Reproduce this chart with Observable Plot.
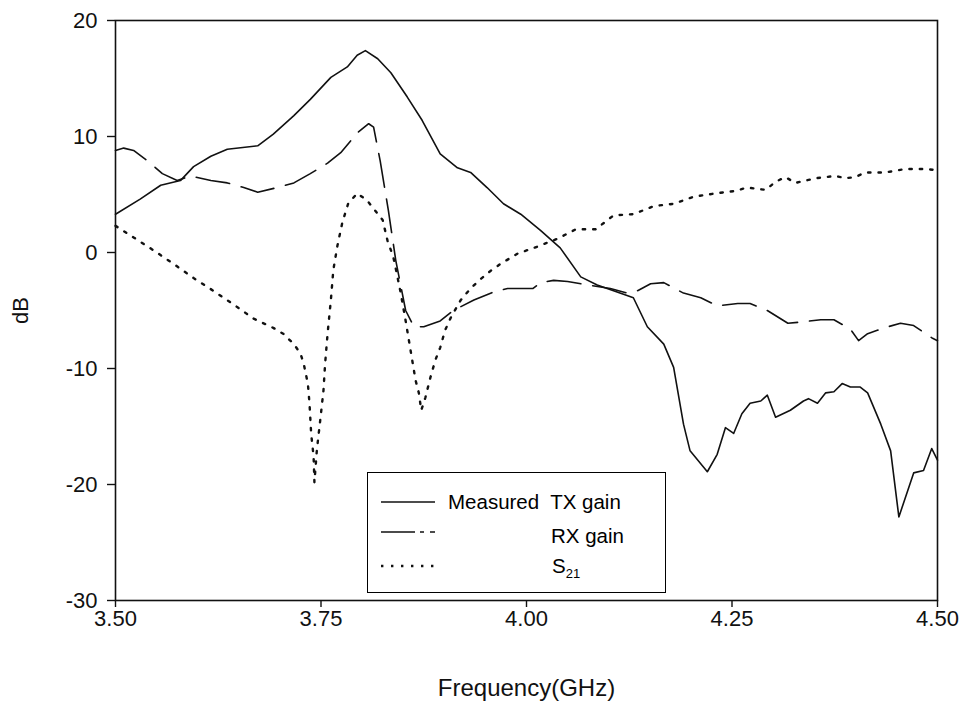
<!DOCTYPE html>
<html>
<head>
<meta charset="utf-8">
<script src="https://cdn.jsdelivr.net/npm/d3@7"></script>
<script src="https://cdn.jsdelivr.net/npm/@observablehq/plot@0.6"></script>
<style>
  html, body { margin: 0; padding: 0; background: #fff; }
  #wrap { position: relative; width: 962px; height: 710px; font-family: "Liberation Sans", Arial, sans-serif; }
  #wrap g[aria-label="x-axis tick label"], #wrap g[aria-label="y-axis tick label"] { font-size: 22px !important; }
  #wrap g[aria-label="x-axis tick label"] text, #wrap g[aria-label="y-axis tick label"] text { font-size: 22px !important; }
  #legend { position: absolute; left: 367px; top: 472px; width: 299px; height: 121px; border: 1.5px solid #000; box-sizing: border-box; background: #fff;
            font-family: "Liberation Sans", Arial, sans-serif; font-size: 20.5px; line-height: 20px; color: #000; }
  #legend svg { position: absolute; left: 13px; }
  #legend span { position: absolute; white-space: pre; }
</style>
</head>
<body>
<div id="wrap"></div>
<script>
// ---- data ----
const txFreq = [3.500,3.530,3.555,3.579,3.595,3.616,3.636,3.673,3.692,3.717,3.737,3.762,3.782,3.794,3.804,3.819,3.835,3.855,3.873,3.895,3.916,3.932,3.952,3.972,3.993,4.017,4.041,4.066,4.086,4.118,4.130,4.147,4.167,4.179,4.191,4.199,4.220,4.232,4.242,4.252,4.262,4.272,4.285,4.293,4.303,4.321,4.337,4.343,4.354,4.364,4.374,4.384,4.394,4.406,4.415,4.431,4.443,4.453,4.471,4.483,4.493,4.500];
const txGain = [3.3,4.6,5.8,6.2,7.4,8.3,8.9,9.2,10.2,11.8,13.2,15.1,16.0,17.0,17.4,16.7,15.5,13.4,11.4,8.5,7.3,6.9,5.6,4.2,3.3,1.9,0.4,-2.1,-2.8,-3.6,-3.9,-6.4,-7.9,-9.9,-14.8,-17.1,-18.9,-17.4,-15.1,-15.6,-13.9,-13.0,-12.8,-12.3,-14.2,-13.6,-12.8,-12.6,-13.0,-12.1,-12.0,-11.3,-11.6,-11.6,-12.1,-14.8,-17.1,-22.8,-19.0,-18.8,-16.9,-17.9];

const rxFreq = [3.500,3.510,3.522,3.539,3.557,3.575,3.591,3.616,3.636,3.656,3.673,3.697,3.717,3.737,3.758,3.774,3.794,3.808,3.814,3.822,3.832,3.841,3.853,3.863,3.875,3.895,3.911,3.936,3.960,3.977,4.008,4.017,4.033,4.050,4.075,4.102,4.123,4.135,4.151,4.167,4.191,4.212,4.232,4.257,4.272,4.293,4.318,4.333,4.358,4.374,4.394,4.404,4.415,4.435,4.455,4.471,4.494,4.500];
const rxGain = [8.8,9.0,8.8,7.9,6.8,6.2,6.6,6.2,6.0,5.6,5.2,5.6,6.0,6.8,7.7,8.6,10.3,11.1,10.8,7.9,3.6,-0.7,-5.0,-6.4,-6.4,-5.9,-5.0,-4.1,-3.4,-3.1,-3.1,-2.6,-2.4,-2.5,-2.8,-3.1,-3.5,-3.3,-2.7,-2.6,-3.5,-3.9,-4.6,-4.4,-4.4,-5.0,-6.1,-6.0,-5.8,-5.8,-6.6,-7.6,-7.0,-6.5,-6.1,-6.3,-7.4,-7.6];

const s21Freq = [3.500,3.522,3.546,3.571,3.595,3.619,3.644,3.668,3.692,3.704,3.717,3.725,3.729,3.734,3.736,3.738,3.741,3.742,3.745,3.749,3.753,3.755,3.758,3.762,3.765,3.770,3.776,3.783,3.794,3.806,3.816,3.825,3.831,3.838,3.841,3.847,3.853,3.857,3.861,3.865,3.869,3.872,3.877,3.883,3.889,3.895,3.901,3.908,3.920,3.932,3.944,3.956,3.968,3.989,4.013,4.038,4.060,4.084,4.106,4.130,4.155,4.179,4.203,4.230,4.254,4.268,4.291,4.303,4.315,4.327,4.352,4.376,4.388,4.400,4.412,4.437,4.461,4.483,4.500];
const s21Val = [2.3,1.3,0.2,-1.0,-2.2,-3.3,-4.5,-5.7,-6.5,-7.0,-7.9,-8.7,-9.6,-11.3,-13.0,-15.6,-17.6,-19.8,-17.0,-14.5,-11.9,-9.6,-7.0,-4.1,-1.5,0.6,2.6,4.2,5.1,4.5,3.6,2.8,1.0,-0.4,-1.4,-3.5,-5.9,-7.6,-9.3,-11.0,-12.1,-13.6,-12.5,-10.8,-9.3,-8.2,-6.7,-5.6,-4.1,-3.1,-2.3,-1.6,-1.0,-0.1,0.5,1.2,2.0,2.0,3.2,3.3,4.0,4.2,4.8,5.1,5.3,5.6,5.4,6.1,6.5,6.0,6.4,6.6,6.4,6.5,6.9,6.9,7.2,7.2,7.1];

const xTicks = [3.50, 3.75, 4.00, 4.25, 4.50];
const yTicks = [20, 10, 0, -10, -20, -30];
const seriesNames = ["Measured  TX gain", "RX gain", "S21"];

// ---- tables ----
const tx = txFreq.map((f, i) => ({f, v: txGain[i]}));
const rx = rxFreq.map((f, i) => ({f, v: rxGain[i]}));
const s21 = s21Freq.map((f, i) => ({f, v: s21Val[i]}));

const chart = Plot.plot({
  width: 962,
  height: 710,
  marginLeft: 115,
  marginRight: 25,
  marginTop: 20,
  marginBottom: 110,
  style: {fontFamily: '"Liberation Sans", Arial, sans-serif', fontSize: "21px", color: "#111", background: "white"},
  x: {domain: [3.5, 4.5]},
  y: {domain: [-30, 20]},
  marks: [
    Plot.frame({stroke: "#111", strokeWidth: 1.6}),
    Plot.axisX({ticks: xTicks, tickFormat: d => d.toFixed(2), tickSize: 7, tickPadding: 3,
      fontSize: 22, label: null, strokeWidth: 1.4}),
    Plot.axisX({ticks: [], label: "Frequency(GHz)", labelAnchor: "center", labelOffset: 95, labelArrow: "none",
      fontSize: 24}),
    Plot.axisY({ticks: yTicks, tickFormat: d => String(d), tickSize: 8, tickPadding: 10,
      fontSize: 22, label: null, strokeWidth: 1.4}),
    Plot.axisY({ticks: [], label: "dB", labelAnchor: "center", labelOffset: 103, labelArrow: "none",
      fontSize: 22}),
    Plot.line(tx, {x: "f", y: "v", stroke: "#111", strokeWidth: 1.6}),
    Plot.line(rx, {x: "f", y: "v", stroke: "#111", strokeWidth: 1.6, strokeDasharray: "34,12"}),
    Plot.line(s21, {x: "f", y: "v", stroke: "#111", strokeWidth: 2.4, strokeDasharray: "2.4,8"})
  ]
});

const wrap = document.getElementById("wrap");
wrap.appendChild(chart);

// ---- legend ----
const legend = document.createElement("div");
legend.id = "legend";
const rows = [
  {lineY: 29, dash: null, width: 1.5, label: seriesNames[0], left: 80, textTop: 18.5},
  {lineY: 59, dash: "34,5,4,6,6", width: 1.5, label: seriesNames[1], left: 183, textTop: 53},
  {lineY: 93, dash: "2.4,7.6", width: 2.4, label: seriesNames[2], left: 184, textTop: 83}
];
const ns = "http://www.w3.org/2000/svg";
rows.forEach(r => {
  const s = document.createElementNS(ns, "svg");
  s.setAttribute("width", 56); s.setAttribute("height", 10);
  s.style.top = (r.lineY - 5) + "px";
  const ln = document.createElementNS(ns, "line");
  ln.setAttribute("x1", 0); ln.setAttribute("x2", 54);
  ln.setAttribute("y1", 5); ln.setAttribute("y2", 5);
  ln.setAttribute("stroke", "#111"); ln.setAttribute("stroke-width", r.width);
  if (r.dash) ln.setAttribute("stroke-dasharray", r.dash);
  s.appendChild(ln);
  legend.appendChild(s);
  const sp = document.createElement("span");
  sp.style.left = r.left + "px";
  sp.style.top = r.textTop + "px";
  if (r.label === "S21") sp.innerHTML = 'S<sub style="font-size:13px">21</sub>';
  else sp.textContent = r.label;
  legend.appendChild(sp);
});
wrap.appendChild(legend);
</script>
</body>
</html>
